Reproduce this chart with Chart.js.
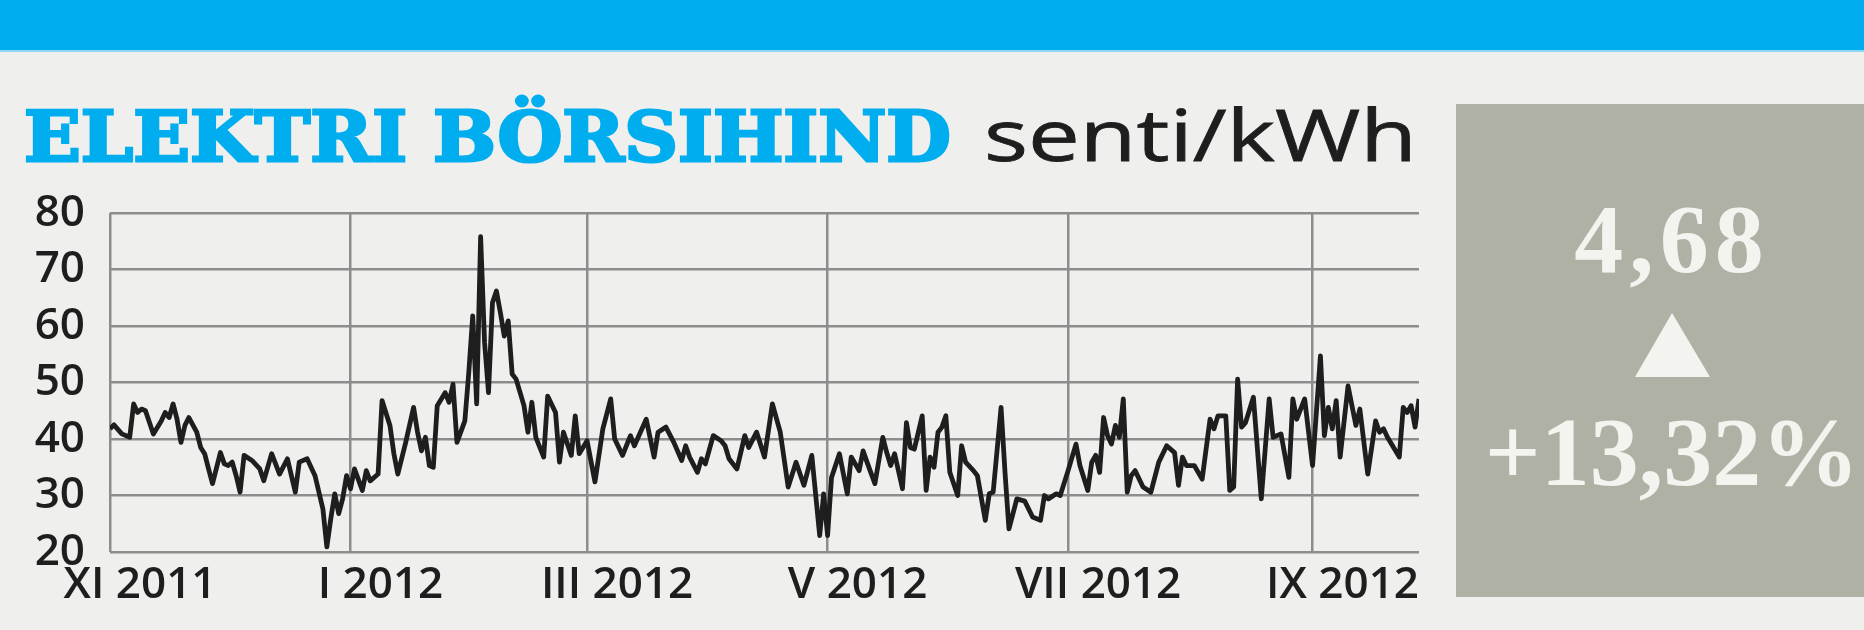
<!DOCTYPE html>
<html>
<head>
<meta charset="utf-8">
<script src="https://cdn.jsdelivr.net/npm/chart.js@4.4.1/dist/chart.umd.min.js"></script>
<style>
  body { margin: 0; width: 1864px; height: 630px; background: #efefed; position: relative; overflow: hidden; }
  .topbar { position: absolute; left: 0; top: 0; width: 1864px; height: 50px; background: #00aeef; border-bottom: 2px solid #8fd8f4; }
  .title { position: absolute; left: 24px; top: 102px; font: bold 70px 'DejaVu Serif'; color: #00aeef; line-height: 1;
           white-space: nowrap; transform-origin: 0 0; -webkit-text-stroke: 3px #00aeef; }
  .unit { position: absolute; left: 984px; top: 97px; font: 72px 'Open Sans'; color: #1e1e1e; line-height: 1;
          white-space: nowrap; transform-origin: 0 0; -webkit-text-stroke: 0.8px #1e1e1e; }
  .box { position: absolute; left: 1456px; top: 104px; width: 408px; height: 493px; background: #b0b1a5; }
  .big { position: absolute; left: 1472px; width: 400px; text-align: center; font: bold 98px 'Liberation Serif';
         color: #f3f3ef; line-height: 1; white-space: nowrap; }
  .tri { position: absolute; left: 1635px; top: 313px; width: 0; height: 0;
         border-left: 37px solid transparent; border-right: 38px solid transparent; border-bottom: 64px solid #f3f3ef; }
  #chart { position: absolute; left: 0; top: 180px; }
</style>
</head>
<body>
<div class="topbar"></div>
<div class="title" id="title">ELEKTRI BÖRSIHIND</div>
<div class="unit" id="unit">senti/kWh</div>
<div class="box"></div>
<div class="big" style="top:190px; letter-spacing:6px">4,68</div>
<div class="tri"></div>
<div class="big" style="top:403px">+13,32%</div>
<canvas id="chart" width="1440" height="440"></canvas>
<script>
// days counted from 1 Nov 2011
const days = [
  0, 1, 3, 5, 6, 7, 8, 9, 11, 13, 14, 15, 16, 17, 18, 19, 20, 22, 23, 24, 25, 26, 28, 29, 30, 31, 32, 33, 34, 36, 38, 39, 41, 43, 45, 47,
  48, 50, 52, 54, 55, 56, 57, 58, 59, 60, 61, 62, 64, 65, 66, 68, 69, 71, 72, 73, 75, 77, 78, 79, 80, 81, 82, 83, 85, 86, 87, 88, 90, 91, 92, 93, 94,
  95, 96, 97, 98, 99, 100, 101, 102, 103, 105, 106, 107, 108, 110, 111, 113, 114, 115, 117, 118, 119, 121, 123, 125, 127, 128, 130, 132, 133, 136, 138, 139, 141,
  143, 145, 146, 147, 149, 150, 151, 153, 155, 156, 157, 159, 161, 162, 164, 166, 168, 170, 172, 174, 176, 178, 180, 181, 182, 183, 185, 187,
  188, 190, 191, 192, 194, 196, 197, 198, 199, 201, 202, 203, 204, 206, 207, 208, 209, 210, 211, 212, 213, 215, 216, 217, 219, 220, 222, 223, 224, 226, 227, 228, 230, 232, 234,
  236, 237, 238, 240, 241, 243, 245, 246, 248, 249, 250, 251, 252, 253, 254, 255, 256, 257, 258, 259, 260, 262, 264, 266, 268, 270, 271, 272, 273, 275, 277, 279, 280, 281,
  283, 284, 285, 286, 287, 288, 290, 292, 294, 295, 297, 299, 300, 301, 303, 305, 307, 308, 309, 310, 311, 312, 314, 316, 317, 319, 321, 322, 323, 324, 327, 328, 329, 330, 331, 332
];
const prices = [
  41.8, 42.5, 40.9, 40.3, 46.2, 44.7, 45.3, 45.0, 40.9, 43.2, 44.7, 43.8, 46.2, 43.5, 39.4, 42.4, 43.8, 41.2, 38.5, 37.4, 34.7, 32.1, 37.6, 35.6, 35.3, 35.9, 33.5, 30.6, 37.1, 36.2, 34.7, 32.6, 37.4, 33.8, 36.5, 30.6,
  35.9, 36.5, 33.5, 27.6, 20.9, 25.9, 30.3, 26.8, 29.4, 33.5, 31.2, 34.7, 30.9, 34.4, 32.6, 33.8, 46.8, 42.4, 37.4, 33.8, 39.4, 45.6, 41.2, 37.9, 40.3, 35.3, 35.0, 45.9, 48.2, 46.5, 49.7, 39.4, 43.2, 51.8, 61.8, 46.2, 75.8,
  57.1, 48.2, 64.1, 66.2, 62.4, 58.2, 60.9, 51.5, 50.6, 45.9, 41.2, 46.5, 40.3, 36.8, 47.6, 44.7, 35.9, 41.2, 37.1, 44.1, 37.4, 39.7, 32.4, 41.8, 47.1, 40.0, 37.1, 40.6, 38.8, 43.5, 36.8, 41.2, 42.1,
  39.4, 36.2, 38.8, 36.8, 34.1, 36.5, 35.6, 40.6, 39.7, 38.8, 36.5, 34.7, 40.6, 38.5, 41.2, 36.8, 46.2, 41.2, 31.5, 35.9, 31.8, 37.1, 22.9, 30.3, 22.9, 33.2, 37.4, 30.3,
  36.8, 34.4, 37.9, 35.9, 32.1, 40.3, 37.6, 35.3, 37.4, 31.2, 42.9, 38.5, 38.2, 44.1, 30.9, 36.8, 35.0, 41.2, 42.1, 44.1, 34.1, 30.0, 38.8, 35.9, 34.4, 33.5, 25.6, 30.3, 30.6, 45.6, 34.1, 24.1, 29.4, 29.0, 26.2,
  25.6, 30.0, 29.4, 30.3, 30.0, 34.4, 39.1, 35.3, 30.9, 35.9, 37.1, 34.1, 43.8, 40.6, 39.1, 42.4, 40.3, 47.1, 30.6, 33.5, 34.4, 31.5, 30.6, 35.9, 38.8, 37.6, 31.8, 36.8, 35.3, 35.3, 32.9, 43.5, 41.8, 44.1,
  44.1, 30.9, 31.5, 50.6, 42.1, 42.9, 47.4, 29.4, 47.1, 40.3, 40.9, 33.2, 47.1, 43.5, 47.1, 35.3, 54.7, 40.6, 45.6, 41.8, 46.8, 36.8, 49.4, 42.4, 45.3, 33.8, 43.2, 41.2, 41.8, 40.3, 36.8, 45.6, 44.7, 45.9, 42.1, 47.1
];
const monthTicks = [0, 61, 121, 182, 243, 305];
const monthLabels = ['XI 2011', 'I 2012', 'III 2012', 'V 2012', 'VII 2012', 'IX 2012'];
const lastDay = 332;

function fitWidth(el, w) {
  const r = el.getBoundingClientRect().width;
  el.style.transform = `scaleX(${w / r})`;
}

const gridColor = '#8d8d8d';
const tickFont = { family: 'Open Sans', size: 44, weight: '600' };

document.fonts.ready.then(() => {
  fitWidth(document.getElementById('title'), 927);
  fitWidth(document.getElementById('unit'), 433);

  new Chart(document.getElementById('chart'), {
    type: 'line',
    data: {
      datasets: [{
        data: days.map((d, i) => ({ x: d, y: prices[i] })),
        borderColor: '#1e1e1e',
        borderWidth: 4.8,
        borderJoinStyle: 'round',
        pointRadius: 0,
        tension: 0,
      }],
    },
    options: {
      responsive: false,
      animation: false,
      devicePixelRatio: 1,
      layout: { padding: { top: 33, right: 21, left: 0, bottom: 0 } },
      plugins: { legend: { display: false }, tooltip: { enabled: false } },
      scales: {
        x: {
          type: 'linear',
          min: 0,
          max: lastDay,
          afterBuildTicks: s => { s.ticks = monthTicks.map(v => ({ value: v })); },
          afterFit: s => { s.height = 68; s.paddingLeft = 0; s.paddingRight = 0; },
          grid: { color: gridColor, lineWidth: 2.5, drawTicks: false },
          border: { display: false },
          ticks: {
            color: '#1e1e1e',
            font: tickFont,
            padding: 7,
            labelOffset: 30,
            maxRotation: 0,
            autoSkip: false,
            callback: (v, i) => monthLabels[i],
          },
        },
        y: {
          min: 20,
          max: 80,
          afterFit: s => { s.width = 110; s.paddingTop = 0; s.paddingBottom = 0; },
          grid: { color: gridColor, lineWidth: 2.5, drawTicks: false },
          border: { display: false },
          ticks: { stepSize: 10, autoSkip: false, color: '#1e1e1e', font: tickFont, padding: 25 },
        },
      },
    },
  });
});
</script>
</body>
</html>
